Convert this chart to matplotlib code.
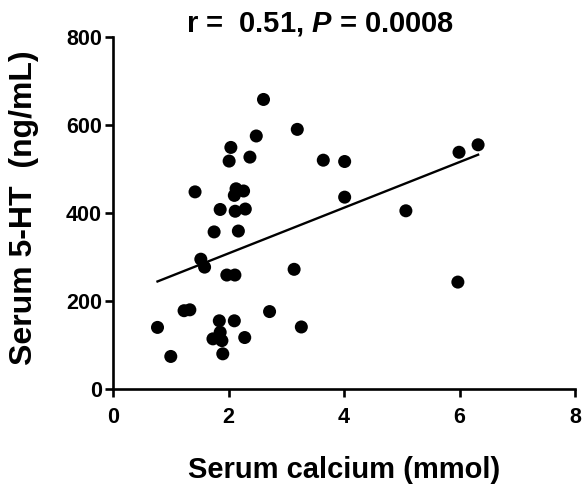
import numpy as np
import matplotlib
matplotlib.use("Agg")
from matplotlib import pyplot as plt

plt.rcParams['font.family'] = ['Liberation Sans', 'DejaVu Sans']
plt.rcParams['font.weight'] = 'bold'
plt.rcParams['mathtext.fontset'] = 'custom'
plt.rcParams['mathtext.it'] = 'Liberation Sans:bold:italic'
plt.rcParams['mathtext.rm'] = 'Liberation Sans:bold'

# serum calcium (mmol) vs serum 5-HT (ng/mL)
calcium = [0.77, 1.00, 1.23, 1.33, 1.42, 1.52, 1.585, 1.73, 1.75, 1.84,
           1.855, 1.885, 1.90, 1.855, 1.97, 2.01, 2.04, 2.10, 2.11, 2.10,
           2.13, 2.115, 2.17, 2.26, 2.29, 2.28, 2.37, 2.48, 2.605, 2.71,
           3.135, 3.19, 3.26, 3.64, 4.01, 4.01, 5.07, 5.97, 5.99, 6.32]
serotonin = [140, 74, 178, 180, 448, 295, 277, 114, 357, 155,
             129, 110, 80, 408, 259, 518, 549, 155, 259, 440,
             455, 404, 359, 450, 409, 117, 527, 575, 658, 176,
             272, 590, 141, 520, 517, 436, 405, 243, 538, 555]

x = np.array(calcium)
y = np.array(serotonin)
slope, intercept = np.polyfit(x, y, 1)
xfit = np.array([x.min(), x.max()])

fig = plt.figure(figsize=(5.82, 4.91), dpi=100)
ax = fig.add_axes([0.1942, 0.2077, 0.794, 0.717])

ax.scatter(x, y, s=88, color="black", edgecolors="none", zorder=3)
ax.plot(xfit, slope * xfit + intercept, color="black", lw=1.7, zorder=2)

ax.set_xlim(0, 8)
ax.set_ylim(0, 800)
ax.set_xticks([0, 2, 4, 6, 8])
ax.set_yticks([0, 200, 400, 600, 800])
for side in ["top", "right"]:
    ax.spines[side].set_visible(False)
for side in ["left", "bottom"]:
    ax.spines[side].set_linewidth(1.9)
ax.tick_params(width=1.9, length=6, labelsize=15.5)
ax.tick_params(axis="x", pad=7)
ax.tick_params(axis="y", pad=2)

fig.text(0.55, 0.951, r"r =  0.51, $P$ = 0.0008", ha="center", va="center",
         fontsize=21, fontweight="bold")
fig.text(0.041, 0.576, "Serum 5-HT  (ng/mL)", rotation=90, ha="center",
         va="center", fontsize=23, fontweight="bold")
fig.text(0.591, 0.043, "Serum calcium (mmol)", ha="center", va="center",
         fontsize=21, fontweight="bold")

fig.savefig("out.png", dpi=100)
